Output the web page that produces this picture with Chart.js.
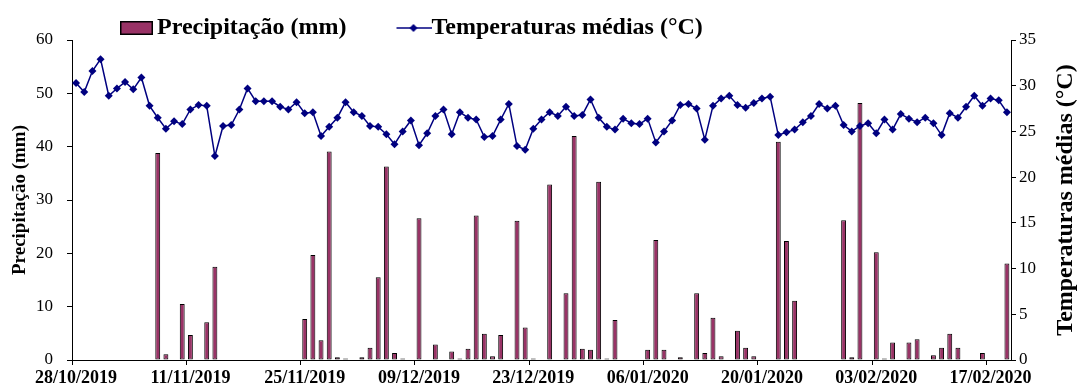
<!DOCTYPE html>
<html>
<head>
<meta charset="utf-8">
<script src="https://cdn.jsdelivr.net/npm/chart.js@4.4.0/dist/chart.umd.min.js"></script>
<style>
  body { margin: 0; background: #fff; }
  #chart { display: block; }
</style>
</head>
<body>
<canvas id="chart" width="1078" height="389"></canvas>
<script>
// first day of the daily series, one category per day
const start_day = [2019, 9, 28];
const day_count = 115;

const tick_labels = ["28/10/2019", "11/11/2019", "25/11/2019", "09/12/2019", "23/12/2019",
  "06/01/2020", "20/01/2020", "03/02/2020", "17/02/2020"];

const precip_label = "Precipitação (mm)";
const temp_label = "Temperaturas médias (°C)";

// daily rainfall, mm (null = no rain)
const precip_mm = [
  null, null, null, null, null, null, null, null, null, null,
  38.8, 1.1, null, 10.5, 4.7, null, 7.1, 17.5, null, null,
  null, null, null, null, null, null, null, null, 7.7, 19.7,
  3.7, 39.1, 0.5, 0.3, null, 0.5, 2.3, 15.5, 36.3, 1.3,
  0.3, null, 26.6, null, 2.9, null, 1.6, 0.3, 2.1, 27.1,
  4.9, 0.7, 4.7, null, 26.1, 6.1, 0.3, null, 32.9, null,
  12.5, 42.0, 2.1, 1.9, 33.4, 0.3, 7.5, null, null, null,
  1.9, 22.5, 1.9, null, 0.5, null, 12.5, 1.3, 7.9, 0.7,
  null, 5.5, 2.3, 0.7, null, null, 40.9, 22.3, 11.1, null,
  null, null, null, null, 26.2, 0.5, 48.2, null, 20.2, 0.3,
  3.3, null, 3.3, 3.9, null, 0.9, 2.3, 4.9, 2.3, null,
  null, 1.3, null, null, 18.1
];

// daily mean temperature, °C
const temp_mean = [
  30.3, 29.3, 31.6, 32.9, 28.9, 29.7, 30.4, 29.6, 30.9, 27.8,
  26.5, 25.3, 26.1, 25.8, 27.4, 27.9, 27.8, 22.3, 25.6, 25.7,
  27.4, 29.7, 28.3, 28.3, 28.3, 27.7, 27.4, 28.2, 27.0, 27.1,
  24.5, 25.5, 26.5, 28.2, 27.1, 26.7, 25.6, 25.5, 24.7, 23.6,
  25.0, 26.2, 23.5, 24.8, 26.7, 27.4, 24.7, 27.1, 26.5, 26.3,
  24.4, 24.5, 26.3, 28.0, 23.4, 23.0, 25.3, 26.3, 27.1, 26.7,
  27.7, 26.7, 26.8, 28.5, 26.5, 25.5, 25.2, 26.4, 25.9, 25.8,
  26.4, 23.8, 25.0, 26.2, 27.9, 28.0, 27.5, 24.1, 27.8, 28.6,
  28.9, 27.9, 27.6, 28.1, 28.6, 28.8, 24.6, 24.9, 25.2, 26.0,
  26.7, 28.0, 27.5, 27.8, 25.7, 25.0, 25.6, 25.9, 24.8, 26.3,
  25.2, 26.9, 26.4, 26.0, 26.5, 25.9, 24.6, 27.0, 26.5, 27.7,
  28.9, 27.8, 28.6, 28.4, 27.1
];

const bar_color = "#993366";
const line_color = "#000080";
const serif = "'Liberation Serif', 'Times New Roman', serif";

function pad2(n) {
  return n < 10 ? "0" + n : "" + n;
}

function buildDays() {
  const days = [];
  for (let i = 0; i < day_count; i++) {
    const d = new Date(start_day[0], start_day[1], start_day[2] + i);
    days.push(pad2(d.getDate()) + "/" + pad2(d.getMonth() + 1) + "/" + d.getFullYear());
  }
  return days;
}

// legend swatches, drawn off-screen and handed to the legend as point styles
function barSwatch() {
  const c = document.createElement("canvas");
  c.width = 78;
  c.height = 16;
  const g = c.getContext("2d");
  g.fillStyle = bar_color;
  g.fillRect(44, 1, 33, 14);
  g.strokeStyle = "#000";
  g.lineWidth = 1.5;
  g.strokeRect(44.75, 1.75, 31.5, 12.5);
  return c;
}

function lineSwatch() {
  const c = document.createElement("canvas");
  c.width = 86;
  c.height = 16;
  const g = c.getContext("2d");
  g.strokeStyle = line_color;
  g.lineWidth = 1.5;
  g.beginPath();
  g.moveTo(50, 8);
  g.lineTo(86, 8);
  g.stroke();
  g.fillStyle = line_color;
  g.beginPath();
  g.moveTo(67, 4);
  g.lineTo(71, 8);
  g.lineTo(67, 12);
  g.lineTo(63, 8);
  g.closePath();
  g.fill();
  return c;
}

// Chart.js rotates a right-hand title top-to-bottom; this one reads upwards
const rightTitle = {
  id: "rightTitle",
  afterDraw(chart) {
    const ctx = chart.ctx;
    const area = chart.chartArea;
    ctx.save();
    ctx.translate(chart.width - 12, (area.top + area.bottom) / 2);
    ctx.rotate(-Math.PI / 2);
    ctx.font = "bold 24px " + serif;
    ctx.fillStyle = "#000";
    ctx.textAlign = "center";
    ctx.textBaseline = "middle";
    ctx.fillText(temp_label, 0, 0);
    ctx.restore();
  },
};

function setupChart() {
  const days = buildDays();
  const bar_img = barSwatch();
  const line_img = lineSwatch();

  const data = {
    labels: days,
    datasets: [
      {
        type: "line",
        label: temp_label,
        data: temp_mean,
        yAxisID: "y1",
        borderColor: line_color,
        backgroundColor: line_color,
        borderWidth: 1.5,
        pointStyle: "rectRot",
        pointRadius: 4,
        pointBorderWidth: 0,
        tension: 0,
        order: 0,
      },
      {
        type: "bar",
        label: precip_label,
        data: precip_mm,
        yAxisID: "y",
        backgroundColor: bar_color,
        borderColor: "#000",
        borderWidth: 1,
        borderSkipped: false,
        barPercentage: 0.6,
        categoryPercentage: 1,
        order: 1,
      },
    ],
  };

  const config = {
    type: "bar",
    data: data,
    options: {
      responsive: false,
      animation: false,
      devicePixelRatio: 1,
      layout: { padding: { top: 3 } },
      plugins: {
        tooltip: { enabled: false },
        legend: {
          fullSize: false,
          align: "start",
          maxHeight: 37,
          labels: {
            usePointStyle: true,
            pointStyleWidth: 60,
            padding: 13,
            color: "#000",
            font: { family: serif, size: 24, weight: "bold" },
            generateLabels: function () {
              return [
                { text: precip_label, pointStyle: bar_img, fillStyle: bar_color, lineWidth: 0, hidden: false, datasetIndex: 1 },
                { text: temp_label, pointStyle: line_img, fillStyle: line_color, lineWidth: 0, hidden: false, datasetIndex: 0 },
              ];
            },
          },
        },
      },
      scales: {
        x: {
          type: "category",
          offset: true,
          grid: {
            offset: true,
            drawOnChartArea: false,
            tickLength: 5,
            color: (ctx) => (ctx.index % 14 === 0 ? "#000" : "rgba(0,0,0,0)"),
          },
          border: { display: true, color: "#000", width: 1 },
          ticks: {
            autoSkip: false,
            maxRotation: 0,
            minRotation: 0,
            padding: 3,
            color: "#000",
            font: { family: serif, size: 18, weight: "bold" },
            callback: function (value, index) {
              const lbl = this.getLabelForValue(value);
              return tick_labels.indexOf(lbl) >= 0 ? lbl : "";
            },
          },
          afterFit: (scale) => {
            scale.height = 29;
          },
        },
        y: {
          position: "left",
          min: 0,
          max: 60,
          grid: { drawOnChartArea: false, tickLength: 5, color: "#000" },
          border: { display: true, color: "#000", width: 1 },
          ticks: {
            stepSize: 10,
            padding: 14,
            color: "#000",
            font: { family: serif, size: 17 },
          },
          title: {
            display: true,
            text: precip_label,
            color: "#000",
            padding: { top: 9, bottom: 0 },
            font: { family: serif, size: 19, weight: "bold" },
          },
          afterFit: (scale) => {
            scale.width = 72;
          },
        },
        y1: {
          position: "right",
          min: 0,
          max: 35,
          grid: { drawOnChartArea: false, tickLength: 5, color: "#000" },
          border: { display: true, color: "#000", width: 1 },
          ticks: {
            stepSize: 5,
            padding: 3,
            color: "#000",
            font: { family: serif, size: 17 },
          },
          afterFit: (scale) => {
            scale.width = 67;
          },
        },
      },
    },
    plugins: [rightTitle],
  };

  new Chart(document.getElementById("chart"), config);
}

document.addEventListener("DOMContentLoaded", setupChart, false);
</script>
</body>
</html>
